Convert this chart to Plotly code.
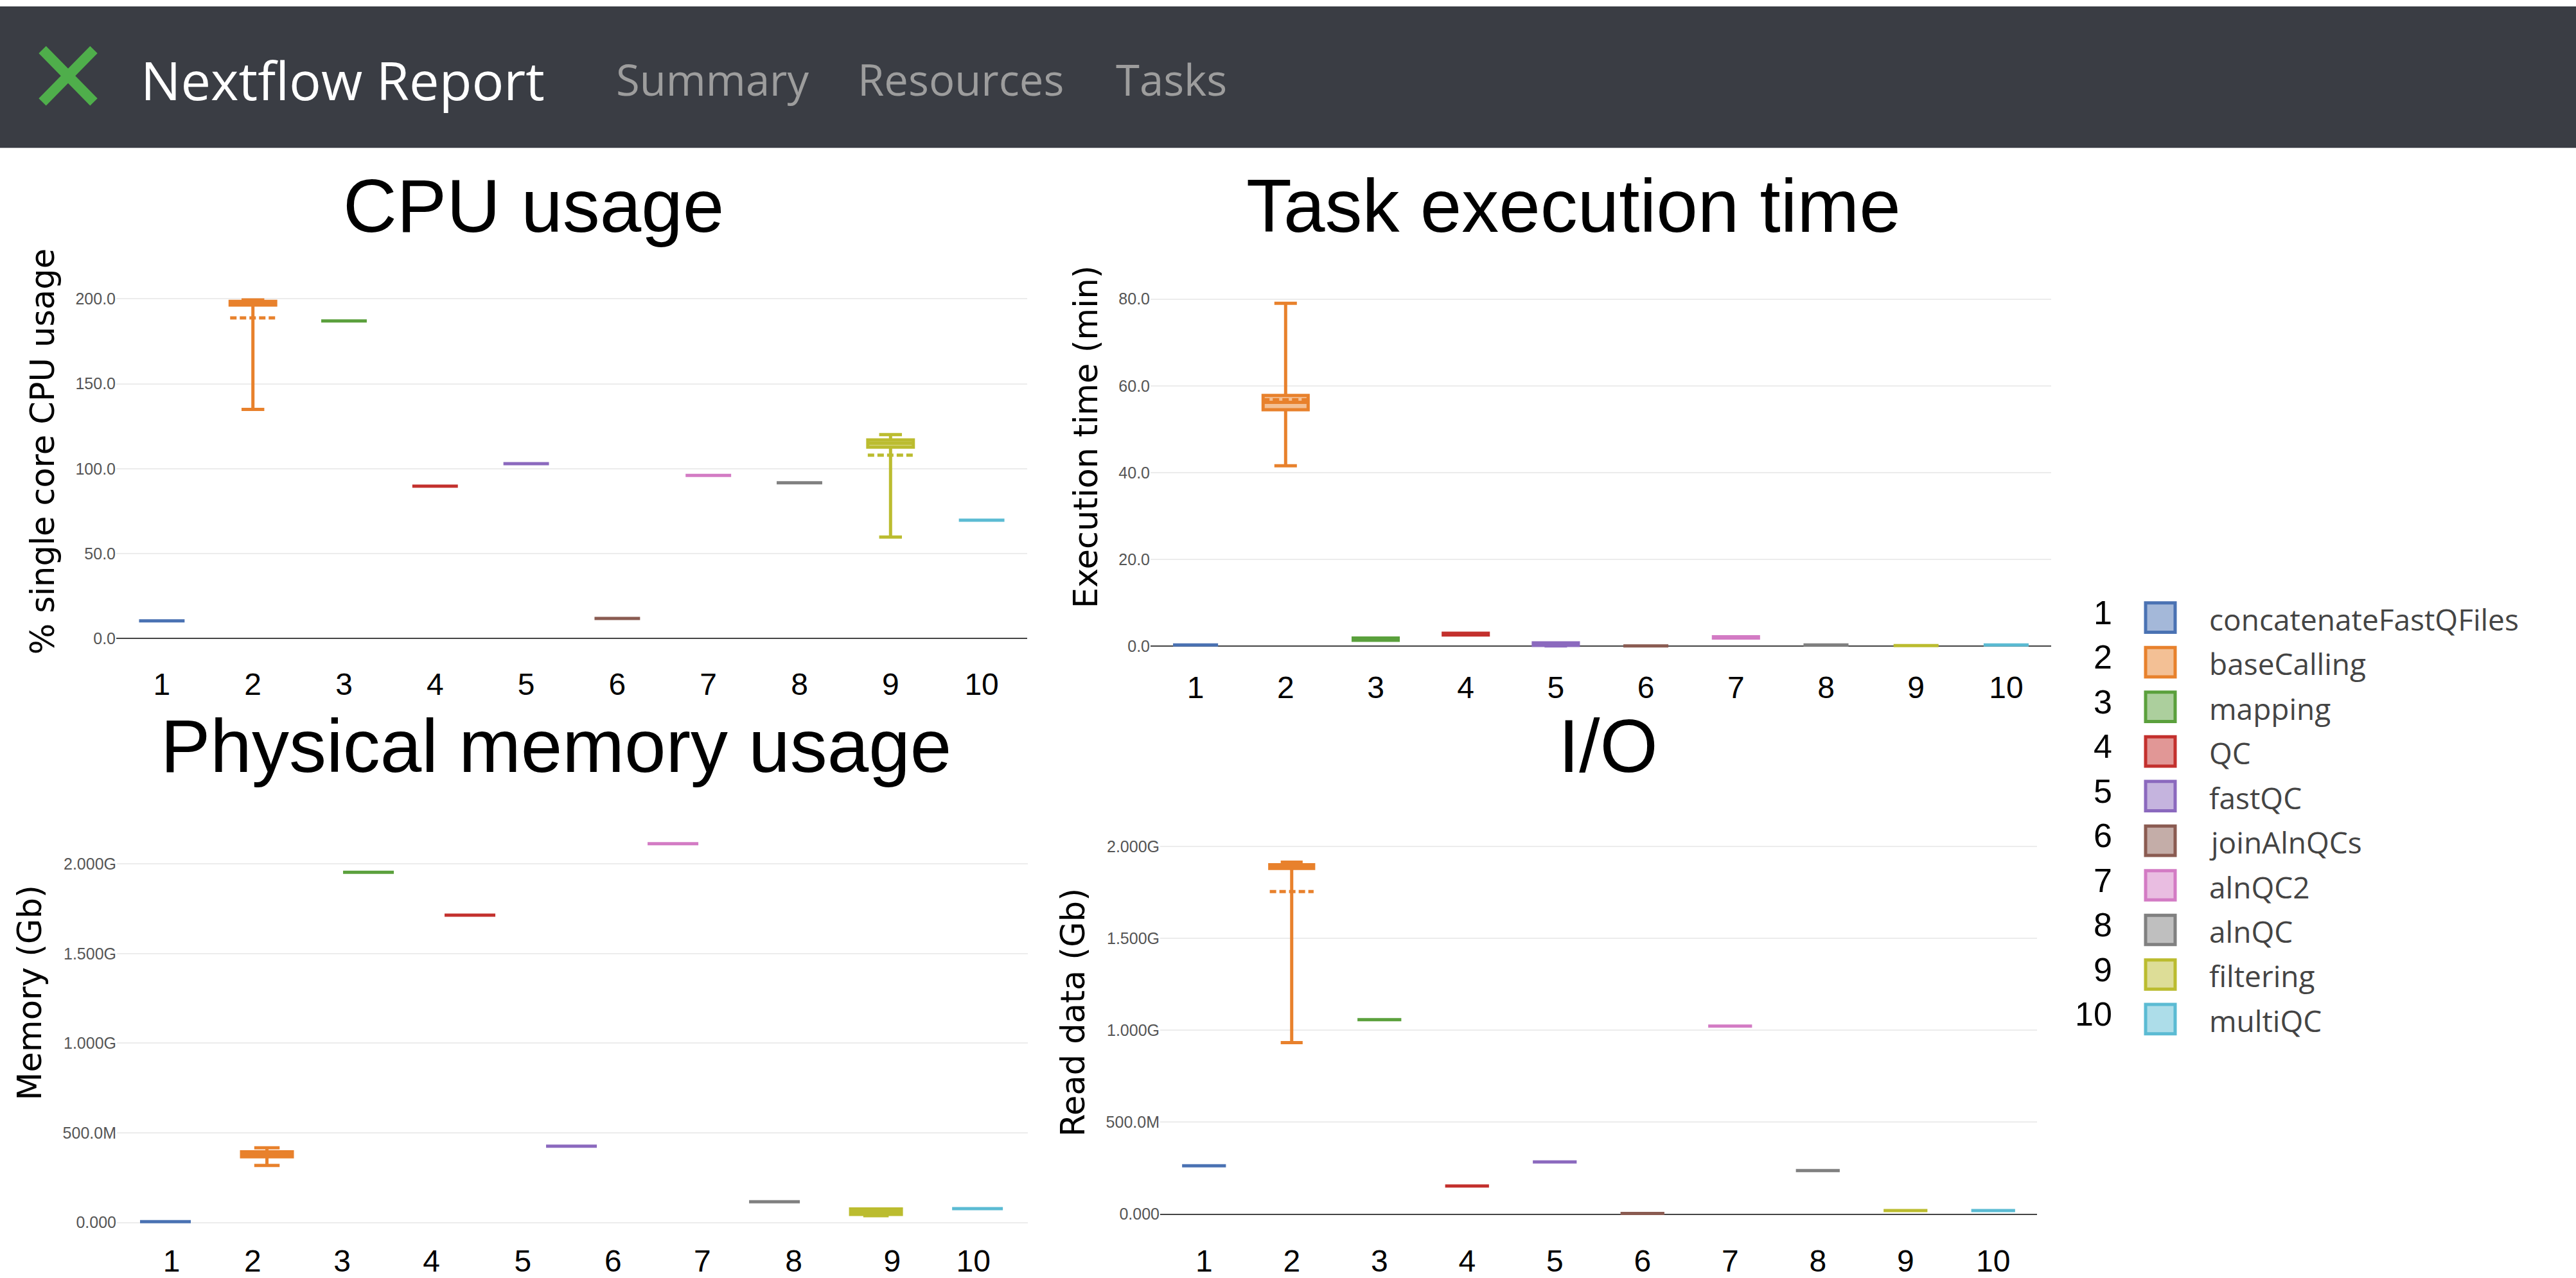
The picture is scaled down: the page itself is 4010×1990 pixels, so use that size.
import plotly.graph_objects as go

W, H = 4010, 1990

labels = ["1", "2", "3", "4", "5", "6", "7", "8", "9", "10"]
processes = ["concatenateFastQFiles", "baseCalling", "mapping", "QC", "fastQC",
             "joinAlnQCs", "alnQC2", "alnQC", "filtering", "multiQC"]
colors = ["#4a72b3", "#e8812c", "#5aa03c", "#c3302d", "#8b69be",
          "#8a5b51", "#d37bc4", "#808080", "#bbbc2f", "#5bbbd3"]

# CPU usage (% single core)
cpu_lo = [10.5, 135.0, 187.0, 89.8, 103.0, 11.9, 96.1, 91.8, 59.8, 69.7]
cpu_q1 = [10.5, 196.4, 187.0, 89.8, 103.0, 11.9, 96.1, 91.8, 112.7, 69.7]
cpu_med = [10.5, 197.5, 187.0, 89.8, 103.0, 11.9, 96.1, 91.8, 115.0, 69.7]
cpu_q3 = [10.5, 198.6, 187.0, 89.8, 103.0, 11.9, 96.1, 91.8, 117.0, 69.7]
cpu_hi = [10.5, 199.4, 187.0, 89.8, 103.0, 11.9, 96.1, 91.8, 120.1, 69.7]
cpu_mean = [None, 188.8, None, None, None, None, None, None, 108.0, None]

# task execution time (min)
time_lo = [0.3, 41.6, 1.4, 2.6, 0.1, 0.1, 1.9, 0.3, 0.15, 0.3]
time_q1 = [0.3, 54.5, 1.4, 2.6, 0.2, 0.1, 1.9, 0.3, 0.15, 0.3]
time_med = [0.3, 56.2, 1.6, 2.8, 0.5, 0.1, 2.0, 0.3, 0.15, 0.3]
time_q3 = [0.3, 57.8, 1.9, 3.0, 0.8, 0.1, 2.2, 0.3, 0.15, 0.3]
time_hi = [0.3, 79.0, 1.9, 3.0, 0.8, 0.1, 2.2, 0.3, 0.15, 0.3]
time_mean = [None, 56.8, None, None, None, None, None, None, None, None]

# physical memory (GB), plotted in a different process order
mem_order = ["1", "2", "3", "4", "5", "7", "8", "9", "10", "6"]
mem_lo = [0.005, 0.318, 1.954, 1.715, 0.426, 0.002, 2.114, 0.116, 0.038, 0.077]
mem_q1 = [0.005, 0.367, 1.954, 1.715, 0.426, 0.002, 2.114, 0.116, 0.045, 0.077]
mem_med = [0.005, 0.381, 1.954, 1.715, 0.426, 0.002, 2.114, 0.116, 0.060, 0.077]
mem_q3 = [0.005, 0.394, 1.954, 1.715, 0.426, 0.002, 2.114, 0.116, 0.075, 0.077]
mem_hi = [0.005, 0.417, 1.954, 1.715, 0.426, 0.002, 2.114, 0.116, 0.075, 0.077]
mem_mean = [None] * 10

# read data (GB)
io_lo = [0.263, 0.933, 1.058, 0.153, 0.284, 0.004, 1.023, 0.237, 0.020, 0.020]
io_q1 = [0.263, 1.880, 1.058, 0.153, 0.284, 0.004, 1.023, 0.237, 0.020, 0.020]
io_med = [0.263, 1.890, 1.058, 0.153, 0.284, 0.004, 1.023, 0.237, 0.020, 0.020]
io_q3 = [0.263, 1.900, 1.058, 0.153, 0.284, 0.004, 1.023, 0.237, 0.020, 0.020]
io_hi = [0.263, 1.914, 1.058, 0.153, 0.284, 0.004, 1.023, 0.237, 0.020, 0.020]
io_mean = [None, 1.755, None, None, None, None, None, None, None, None]


def fx(x):
    return x / W


def fy(y):
    return 1 - y / H


def rgba(hex_color, a):
    h = hex_color.lstrip("#")
    return "rgba(%d,%d,%d,%s)" % (int(h[0:2], 16), int(h[2:4], 16), int(h[4:6], 16), a)


fig = go.Figure()


def add_boxes(xa, ya, xs, lo, q1, med, q3, hi, mean, scale=1.0):
    for i, name in enumerate(processes):
        has_mean = mean[i] is not None
        fig.add_trace(go.Box(
            x=[xs[i]], lowerfence=[lo[i] * scale], q1=[q1[i] * scale],
            median=[med[i] * scale], q3=[q3[i] * scale], upperfence=[hi[i] * scale],
            mean=[mean[i] * scale] if has_mean else None, boxmean=has_mean,
            name=name, xaxis=xa, yaxis=ya, line=dict(color=colors[i], width=5),
            fillcolor=rgba(colors[i], 0.5), width=0.5, whiskerwidth=0.5,
            boxpoints=False, showlegend=False))


add_boxes("x", "y", labels, cpu_lo, cpu_q1, cpu_med, cpu_q3, cpu_hi, cpu_mean)
add_boxes("x2", "y2", labels, time_lo, time_q1, time_med, time_q3, time_hi, time_mean)
add_boxes("x3", "y3", [mem_order.index(l) for l in labels],
          mem_lo, mem_q1, mem_med, mem_q3, mem_hi, mem_mean, 1e9)
add_boxes("x4", "y4", labels, io_lo, io_q1, io_med, io_q3, io_hi, io_mean, 1e9)

tick_small = dict(family="Liberation Sans", size=25, color="#555")
tick_big = dict(family="Liberation Sans", size=48, color="black")
ytitle_font = dict(family="DejaVu Sans", size=51, color="black")


def xaxis(x0, x1, anchor, standoff, **kw):
    d = dict(domain=[fx(x0), fx(x1)], anchor=anchor, showgrid=False, zeroline=False,
             showline=False, ticks="", tickfont=tick_big, ticklabelstandoff=standoff)
    d.update(kw)
    return d


def yaxis(top, bottom, anchor, title, rng, **kw):
    d = dict(domain=[fy(bottom), fy(top)], anchor=anchor, range=rng,
             showgrid=True, gridcolor="#ececec", gridwidth=2,
             zeroline=True, zerolinecolor="#444", zerolinewidth=2,
             showline=False, ticks="", tickfont=tick_small,
             title=dict(text=title, font=ytitle_font, standoff=16))
    d.update(kw)
    return d


cat = dict(type="category", categoryorder="array", categoryarray=labels, range=[-0.5, 9.5])

fig.update_layout(
    width=W, height=H, margin=dict(l=0, r=0, t=0, b=0),
    paper_bgcolor="white", plot_bgcolor="white",
    xaxis=xaxis(181, 1599, "y", 36, **cat),
    yaxis=yaxis(412, 1005, "x", "% single core CPU usage", [-1.13, 221.4],
                dtick=50, tickformat=".1f"),
    xaxis2=xaxis(1791, 3193, "y2", 29, **cat),
    yaxis2=yaxis(354, 1017, "x2", "Execution time (min)", [-0.44, 96.9],
                 dtick=20, tickformat=".1f"),
    xaxis3=xaxis(182, 1600, "y3", 16, range=[-0.478, 8.496],
                 tickvals=[0.06, 0.86, 1.74, 2.62, 3.52, 4.41, 5.29, 6.19, 7.16, 7.96],
                 ticktext=labels),
    yaxis3=yaxis(1185, 1930, "x3", "Memory (Gb)", [-0.0427e9, 2.607e9],
                 tickvals=[0, 0.5e9, 1e9, 1.5e9, 2e9], tickformat=".4s", zeroline=False),
    xaxis4=xaxis(1806, 3171, "y4", 37, **cat),
    yaxis4=yaxis(1269, 1908, "x4", "Read data (Gb)", [-0.0104e9, 2.2045e9],
                 dtick=0.5e9, tickformat=".4s"),
)

shapes = []
# navbar
shapes.append(dict(type="rect", xref="paper", yref="paper", x0=0, x1=1,
                   y0=fy(232), y1=fy(10), fillcolor="#3a3d44", line=dict(width=0)))
# logo cross
shapes.append(dict(type="line", xref="paper", yref="paper", x0=fx(66), y0=fy(78),
                   x1=fx(146), y1=fy(160), line=dict(color="#4fae4b", width=16)))
shapes.append(dict(type="line", xref="paper", yref="paper", x0=fx(66), y0=fy(160),
                   x1=fx(146), y1=fy(78), line=dict(color="#4fae4b", width=16)))

annotations = []


def note(text, x, y, xanchor, size, color, family):
    annotations.append(dict(text=text, x=fx(x), y=fy(y), xref="paper", yref="paper",
                            xanchor=xanchor, yanchor="middle", showarrow=False,
                            font=dict(family=family, size=size, color=color)))


note("Nextflow Report", 217, 124, "left", 83, "white", "Open Sans")
for txt, x0 in [("Summary", 957), ("Resources", 1333), ("Tasks", 1735)]:
    note(txt, x0, 124, "left", 67, "#9d9d9d", "Open Sans")

# panel titles
for txt, xc, yc in [("CPU usage", 830, 323), ("Task execution time", 2449, 323),
                    ("Physical memory usage", 865, 1171), ("I/O", 2503, 1171)]:
    note(txt, xc, yc, "center", 116, "black", "Liberation Sans")

# legend: numbers, colour squares and process names
for i, name in enumerate(processes):
    yc = 969 + 70 * i
    shapes.append(dict(type="rect", xref="paper", yref="paper",
                       x0=fx(3340), x1=fx(3386), y0=fy(yc + 23), y1=fy(yc - 23),
                       fillcolor=rgba(colors[i], 0.5), line=dict(color=colors[i], width=5)))
    note(labels[i], 3290, yc - 8, "right", 52, "black", "Liberation Sans")
    note(name, 3437, yc + 2, "left", 46, "#444", "Open Sans")

fig.update_layout(shapes=shapes, annotations=annotations)

fig.write_html("out.html", config=dict(displayModeBar=False),
               post_script="document.body.style.margin = '0px';")
